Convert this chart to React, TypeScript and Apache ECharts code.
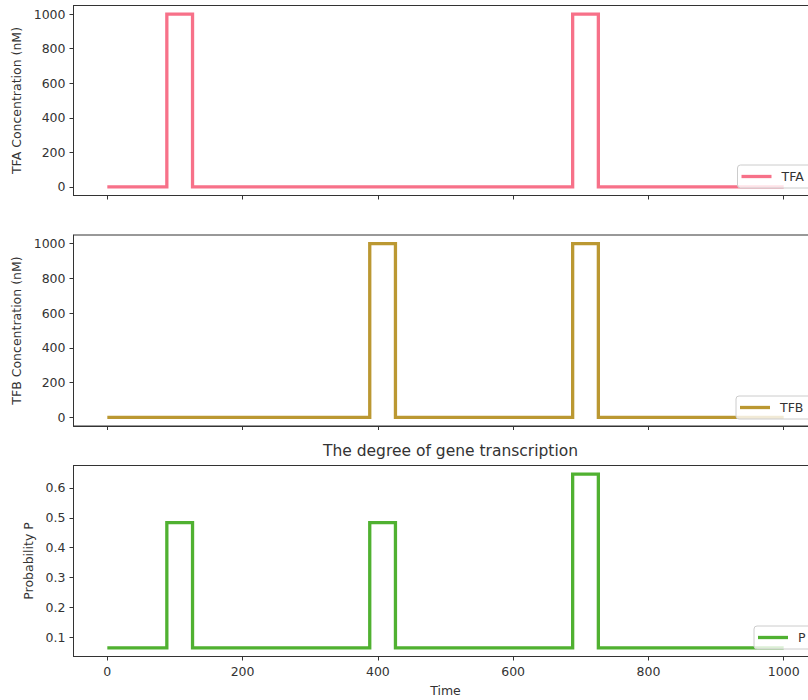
import React, { useEffect, useRef } from "react";
import * as echarts from "echarts";

// Time points (step pulses) and values
const tfaTime = [0, 88, 88, 126, 126, 688, 688, 726, 726, 1000];
const tfaValue = [0, 0, 1000, 1000, 0, 0, 1000, 1000, 0, 0];

const tfbTime = [0, 388, 388, 426, 426, 688, 688, 726, 726, 1000];
const tfbValue = [0, 0, 1000, 1000, 0, 0, 1000, 1000, 0, 0];

const pTime = [0, 88, 88, 126, 126, 388, 388, 426, 426, 688, 688, 726, 726, 1000];
const pValue = [0.065, 0.065, 0.484, 0.484, 0.065, 0.065, 0.484, 0.484, 0.065, 0.065, 0.646, 0.646, 0.065, 0.065];

const xTicks = [0, 200, 400, 600, 800, 1000];
const concTicks = [0, 200, 400, 600, 800, 1000];
const pTicks = [0.1, 0.2, 0.3, 0.4, 0.5, 0.6];

const FONT = "DejaVu Sans";
const AX = "#333333";
const TXT = "#333333";

const zip = (a: number[], b: number[]) => a.map((v, i) => [v, b[i]]);

export default function App() {
  const ref = useRef<HTMLDivElement>(null);
  useEffect(() => {
    if (!ref.current) return;
    const chart = echarts.init(ref.current, null, { renderer: "svg" });
    const gridLeft = 73.5;
    const gridWidth = 744;
    const grids = [
      { left: gridLeft, top: 5.5, width: gridWidth, height: 190 },
      { left: gridLeft, top: 235, width: gridWidth, height: 191 },
      { left: gridLeft, top: 465.5, width: gridWidth, height: 191 },
    ].map((g) => ({ ...g, show: true, borderColor: AX, borderWidth: 1, backgroundColor: "transparent" }));

    const plain = (v: number) => String(v);

    const mkX = (idx: number, showLabel: boolean) => ({
      type: "value",
      gridIndex: idx,
      min: -50,
      max: 1050,
      axisLine: { show: true, onZero: false, lineStyle: { color: AX, width: 1 } },
      axisTick: { show: true, length: 4, customValues: xTicks, lineStyle: { color: AX } },
      axisLabel: {
        show: showLabel,
        customValues: xTicks,
        margin: 8,
        fontFamily: FONT,
        fontSize: 12.5,
        color: TXT,
        formatter: plain,
      },
      splitLine: { show: false },
      ...(showLabel
        ? {
            name: "Time",
            nameLocation: "middle",
            nameGap: 27,
            nameTextStyle: { fontFamily: FONT, fontSize: 12.5, color: TXT },
          }
        : {}),
    });

    const mkY = (idx: number, min: number, max: number, ticks: number[], name: string, gap: number, fmt: (v: number) => string) => ({
      type: "value",
      gridIndex: idx,
      min,
      max,
      name,
      nameLocation: "middle",
      nameGap: gap,
      nameTextStyle: { fontFamily: FONT, fontSize: 12.5, color: TXT },
      axisLine: { show: true, onZero: false, lineStyle: { color: AX, width: 1 } },
      axisTick: { show: true, length: 4, customValues: ticks, lineStyle: { color: AX } },
      axisLabel: {
        customValues: ticks,
        margin: 8,
        fontFamily: FONT,
        fontSize: 12.5,
        color: TXT,
        formatter: fmt,
      },
      splitLine: { show: false },
    });

    const mkLegend = (name: string, left: number, top: number) => ({
      data: [name],
      left,
      top,
      orient: "horizontal",
      icon: "rect",
      itemWidth: 30,
      itemHeight: 3.3,
      padding: [5, 10, 5, 4],
      backgroundColor: "rgba(255,255,255,0.8)",
      borderColor: "#cccccc",
      borderWidth: 1,
      borderRadius: 3,
      textStyle: { fontFamily: FONT, fontSize: 12.5, color: TXT, padding: [0, 0, 0, 5] },
      selectedMode: false,
    });

    const lineSeries = (name: string, idx: number, data: number[][], color: string) => ({
      name,
      type: "line",
      xAxisIndex: idx,
      yAxisIndex: idx,
      data,
      symbol: "none",
      lineStyle: { color, width: 3.3, join: "miter" },
      itemStyle: { color },
      z: 2,
    });

    chart.setOption({
      animation: false,
      backgroundColor: "#ffffff",
      title: {
        text: "The degree of gene transcription",
        left: 445.5,
        top: 438,
        textAlign: "center",
        textStyle: { fontFamily: FONT, fontSize: 15.5, fontWeight: "normal", color: TXT },
      },
      grid: grids,
      xAxis: [mkX(0, false), mkX(1, false), mkX(2, true)],
      yAxis: [
        mkY(0, -50, 1050, concTicks, "TFA Concentration (nM)", 50, plain),
        mkY(1, -50, 1050, concTicks, "TFB Concentration (nM)", 50, plain),
        mkY(2, 0.036, 0.675, pTicks, "Probability P", 38, (v: number) => v.toFixed(1)),
      ],
      legend: [mkLegend("TFA", 737.5, 165), mkLegend("TFB", 736, 396), mkLegend("P", 754, 626)],
      series: [
        lineSeries("TFA", 0, zip(tfaTime, tfaValue), "#f77189"),
        lineSeries("TFB", 1, zip(tfbTime, tfbValue), "#bb9832"),
        lineSeries("P", 2, zip(pTime, pValue), "#50b131"),
      ],
    });
    return () => chart.dispose();
  }, []);
  return (
    <div style={{ position: "fixed", left: 0, top: 0, width: 808, height: 700, overflow: "hidden" }}>
      <div ref={ref} style={{ width: 840, height: 700 }} />
    </div>
  );
}
